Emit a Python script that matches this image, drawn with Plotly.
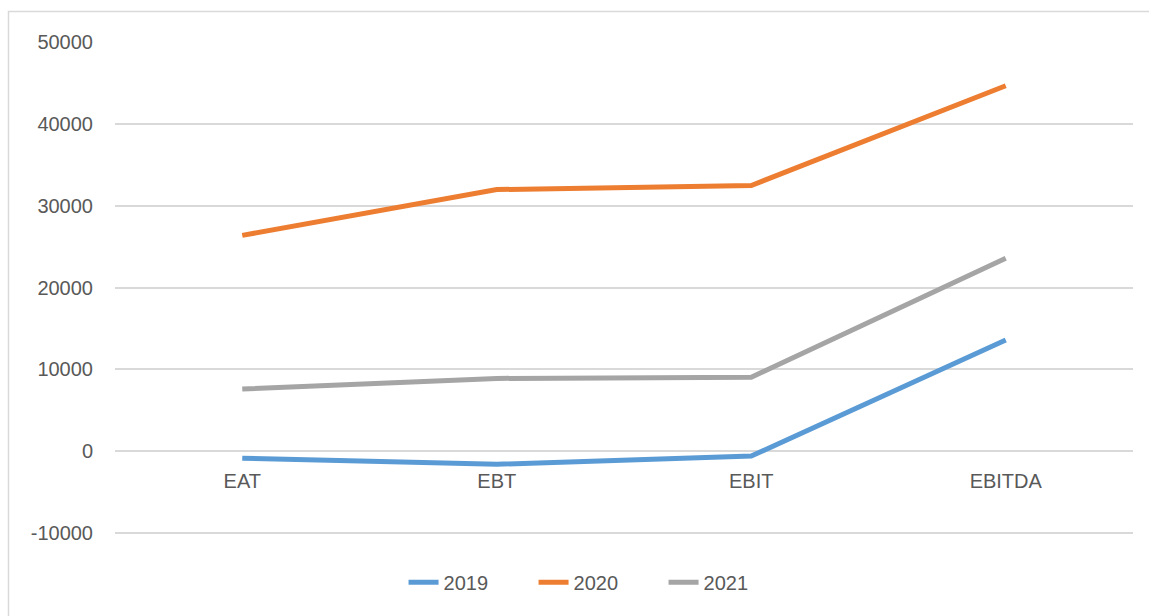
import plotly.graph_objects as go

categories = ["EAT", "EBT", "EBIT", "EBITDA"]
v2019 = [-850, -1600, -600, 13600]
v2020 = [26400, 32000, 32500, 44700]
v2021 = [7600, 8900, 9050, 23600]
series_names = ["2019", "2020", "2021"]
colors = ["#5B9BD5", "#ED7D31", "#A5A5A5"]
y_ticks = [-10000, 0, 10000, 20000, 30000, 40000, 50000]
y_ticktext = ["-10000", "0", "10000", "20000", "30000", "40000", "50000"]

ymin, ymax = -10250, 50050

fig = go.Figure()
for name, vals, col in zip(series_names, [v2019, v2020, v2021], colors):
    fig.add_trace(go.Scatter(x=categories, y=vals, mode="lines", name=name,
                             line=dict(color=col, width=5)))

font = dict(family="Liberation Sans, Arial, sans-serif", size=20, color="#595959")

fig.update_layout(
    width=1149, height=616,
    margin=dict(l=115, r=16, t=42, b=81, autoexpand=False),
    paper_bgcolor="white", plot_bgcolor="white",
    font=font,
    showlegend=True,
    legend=dict(orientation="h", x=0.475, xanchor="center", y=-0.096, yanchor="middle",
                font=font, entrywidth=85, entrywidthmode="pixels", tracegroupgap=0),
    xaxis=dict(type="category", range=[-0.5, 3.5], showgrid=False, showline=False,
               anchor="free", position=(0 - ymin) / (ymax - ymin),
               ticks="", ticklabelstandoff=16, tickfont=font),
    yaxis=dict(range=[ymin, ymax], tickvals=y_ticks, ticktext=y_ticktext,
               showgrid=True, gridcolor="#D9D9D9",
               gridwidth=1.5, zeroline=True, zerolinecolor="#D9D9D9", zerolinewidth=1.5,
               showline=False, ticks="", ticklabelstandoff=21, tickfont=font),
    shapes=[dict(type="rect", xref="paper", yref="paper",
                 x0=-106.5 / 1018, x1=1.05, y0=-0.3, y1=523.5 / 493,
                 line=dict(color="#D9D9D9", width=1.5), fillcolor="rgba(0,0,0,0)",
                 layer="below")],
)

fig.write_html("out.html")
